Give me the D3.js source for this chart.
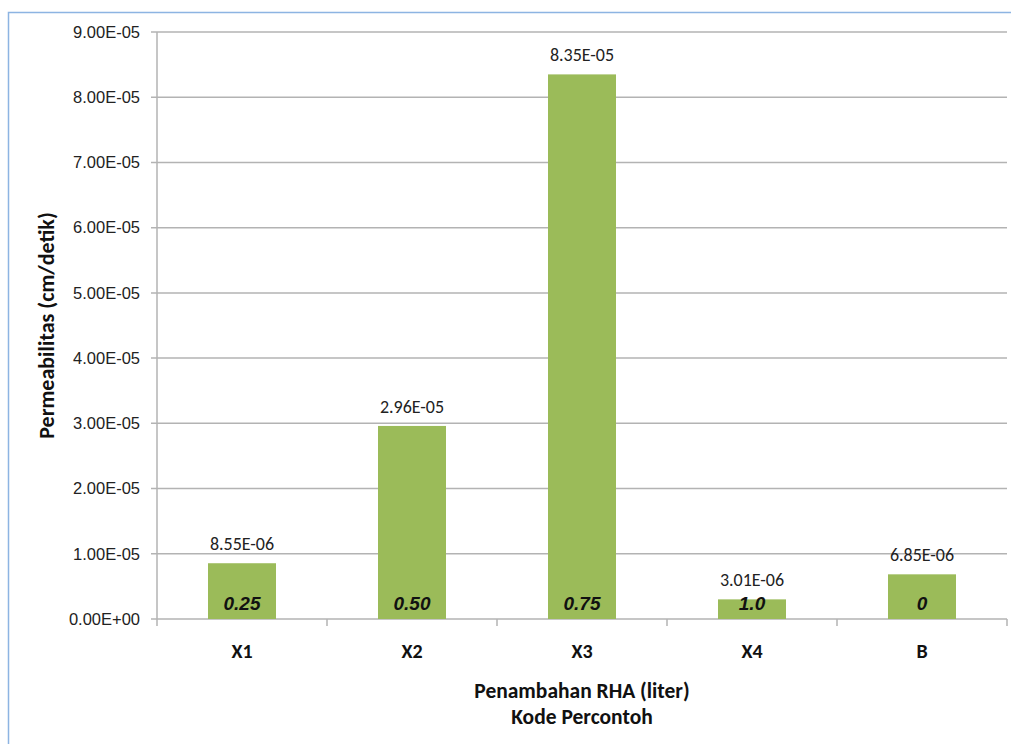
<!DOCTYPE html>
<html>
<head>
<meta charset="utf-8">
<script src="https://cdn.jsdelivr.net/npm/d3@7"></script>
<style>
  body { margin: 0; background: #fff; }
  svg { font-family: Carlito, Calibri, Lato, "Open Sans", sans-serif; }
</style>
</head>
<body>
<div id="chart"></div>
<script>
// data
const categories = ["X1", "X2", "X3", "X4", "B"];
const permeability = [8.55e-6, 2.96e-5, 8.35e-5, 3.01e-6, 6.85e-6];
const valueLabels = ["8.55E-06", "2.96E-05", "8.35E-05", "3.01E-06", "6.85E-06"];
const rhaLabels = ["0.25", "0.50", "0.75", "1.0", "0"];
const yTicks = [0, 1e-5, 2e-5, 3e-5, 4e-5, 5e-5, 6e-5, 7e-5, 8e-5, 9e-5];
const yTickLabels = ["0.00E+00", "1.00E-05", "2.00E-05", "3.00E-05", "4.00E-05",
  "5.00E-05", "6.00E-05", "7.00E-05", "8.00E-05", "9.00E-05"];

const width = 1011, height = 744;
const margin = {top: 32, right: 4, bottom: 125, left: 157};
const innerW = width - margin.left - margin.right;
const innerH = height - margin.top - margin.bottom;

const svg = d3.select("#chart").append("svg")
  .attr("width", width)
  .attr("height", height);

// outer frame (runs off the right and bottom)
svg.append("rect")
  .attr("x", 8.5).attr("y", 12.5)
  .attr("width", width + 20).attr("height", height + 20)
  .attr("fill", "none")
  .attr("stroke", "#8db4e2")
  .attr("stroke-width", 1.5);

const g = svg.append("g")
  .attr("transform", "translate(" + margin.left + "," + margin.top + ")");

const x = d3.scaleBand().domain(categories).range([0, innerW]).paddingInner(0.6).paddingOuter(0.3);
const xCat = d3.scaleBand().domain(categories).range([0, innerW]);
const y = d3.scaleLinear().domain([0, 9e-5]).range([innerH, 0]);

// grid lines
g.append("g")
  .selectAll("line")
  .data(yTicks)
  .enter()
  .append("line")
  .attr("x1", -6).attr("x2", innerW)
  .attr("y1", d => y(d)).attr("y2", d => y(d))
  .attr("stroke", "#b3b3b3")
  .attr("stroke-width", 1.5);

// y axis
const yAxis = g.append("g")
  .call(d3.axisLeft(y).tickValues(yTicks).tickSize(0).tickPadding(17)
    .tickFormat((d, i) => yTickLabels[i]));
yAxis.select(".domain").remove();
yAxis.selectAll("text").attr("font-size", 16.5).attr("fill", "#222").attr("font-family", null);

g.append("line")
  .attr("x1", 0).attr("x2", 0)
  .attr("y1", 0).attr("y2", innerH + 7)
  .attr("stroke", "#b3b3b3").attr("stroke-width", 1.5);

// x category tick marks
g.append("g")
  .selectAll("line")
  .data(categories)
  .enter()
  .append("line")
  .attr("x1", d => xCat(d) + xCat.bandwidth()).attr("x2", d => xCat(d) + xCat.bandwidth())
  .attr("y1", innerH).attr("y2", innerH + 7)
  .attr("stroke", "#b3b3b3").attr("stroke-width", 1.5);

// bars
g.append("g")
  .selectAll("rect")
  .data(categories)
  .enter()
  .append("rect")
  .attr("x", d => x(d))
  .attr("width", x.bandwidth())
  .attr("y", (d, i) => y(permeability[i]))
  .attr("height", (d, i) => innerH - y(permeability[i]))
  .attr("fill", "#9bbb59");

// value labels above bars
g.append("g")
  .selectAll("text")
  .data(categories)
  .enter()
  .append("text")
  .attr("x", d => x(d) + x.bandwidth() / 2)
  .attr("y", (d, i) => y(permeability[i]) - 13)
  .attr("text-anchor", "middle")
  .attr("font-size", 18)
  .attr("fill", "#222")
  .text((d, i) => valueLabels[i]);

// RHA amount inside bars
g.append("g")
  .selectAll("text")
  .data(categories)
  .enter()
  .append("text")
  .attr("x", d => x(d) + x.bandwidth() / 2)
  .attr("y", innerH - 9)
  .attr("text-anchor", "middle")
  .attr("font-family", "Liberation Sans, Arial, sans-serif")
  .attr("font-size", 19)
  .attr("font-weight", "bold")
  .attr("font-style", "italic")
  .attr("fill", "#111")
  .text((d, i) => rhaLabels[i]);

// category labels
g.append("g")
  .selectAll("text")
  .data(categories)
  .enter()
  .append("text")
  .attr("x", d => xCat(d) + xCat.bandwidth() / 2)
  .attr("y", innerH + 39)
  .attr("text-anchor", "middle")
  .attr("font-size", 20)
  .attr("font-weight", "bold")
  .attr("fill", "#111")
  .text(d => d);

// axis titles
g.append("text")
  .attr("transform", "translate(" + (-103) + "," + (innerH / 2) + ") rotate(-90)")
  .attr("text-anchor", "middle")
  .attr("font-size", 22)
  .attr("font-weight", "bold")
  .attr("fill", "#111")
  .text("Permeabilitas (cm/detik)");

g.append("text")
  .attr("x", innerW / 2)
  .attr("y", innerH + 79)
  .attr("text-anchor", "middle")
  .attr("font-size", 21.5)
  .attr("font-weight", "bold")
  .attr("fill", "#111")
  .text("Penambahan RHA (liter)");

g.append("text")
  .attr("x", innerW / 2)
  .attr("y", innerH + 105)
  .attr("text-anchor", "middle")
  .attr("font-size", 21.5)
  .attr("font-weight", "bold")
  .attr("fill", "#111")
  .text("Kode Percontoh");
</script>
</body>
</html>
